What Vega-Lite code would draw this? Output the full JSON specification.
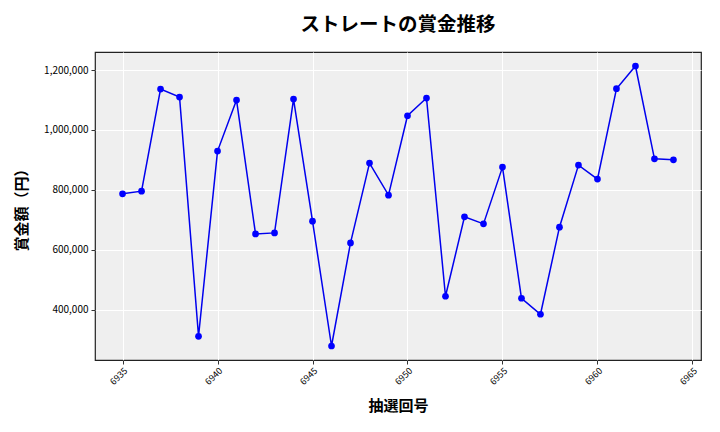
{
  "$schema": "https://vega.github.io/schema/vega-lite/v6.json",
  "width": 606,
  "height": 308,
  "autosize": {"type": "none"},
  "padding": {"left": 95, "top": 52, "right": 19, "bottom": 72},
  "background": "white",
  "title": {
    "text": "ストレートの賞金推移",
    "font": "Noto Sans CJK JP",
    "fontSize": 19.5,
    "fontWeight": "bold",
    "color": "#000000",
    "anchor": "middle",
    "offset": 17
  },
  "config": {
    "view": {"fill": "#EFEFEF", "stroke": "#222222", "strokeWidth": 1.2},
    "axis": {
      "labelFont": "Noto Sans CJK JP",
      "titleFont": "Noto Sans CJK JP",
      "labelColor": "#000000",
      "titleColor": "#000000",
      "gridColor": "#FFFFFF",
      "gridWidth": 1,
      "domain": false,
      "tickColor": "#333333",
      "tickSize": 4
    }
  },
  "data": {
    "values": [
      {"round": 6935, "prize": 786600},
      {"round": 6936, "prize": 795500},
      {"round": 6937, "prize": 1136800},
      {"round": 6938, "prize": 1110000},
      {"round": 6939, "prize": 310700},
      {"round": 6940, "prize": 929400},
      {"round": 6941, "prize": 1100000},
      {"round": 6942, "prize": 652800},
      {"round": 6943, "prize": 656200},
      {"round": 6944, "prize": 1103300},
      {"round": 6945, "prize": 695300},
      {"round": 6946, "prize": 278300},
      {"round": 6947, "prize": 622700},
      {"round": 6948, "prize": 889300},
      {"round": 6949, "prize": 782300},
      {"round": 6950, "prize": 1047500},
      {"round": 6951, "prize": 1106700},
      {"round": 6952, "prize": 444500},
      {"round": 6953, "prize": 709700},
      {"round": 6954, "prize": 686300},
      {"round": 6955, "prize": 875900},
      {"round": 6956, "prize": 437800},
      {"round": 6957, "prize": 384300},
      {"round": 6958, "prize": 675300},
      {"round": 6959, "prize": 882600},
      {"round": 6960, "prize": 835800},
      {"round": 6961, "prize": 1137800},
      {"round": 6962, "prize": 1213700},
      {"round": 6963, "prize": 903700},
      {"round": 6964, "prize": 900300}
    ]
  },
  "encoding": {
    "x": {
      "field": "round",
      "type": "quantitative",
      "scale": {"domain": [6933.55, 6965.45], "nice": false, "zero": false},
      "axis": {
        "title": "抽選回号",
        "titleFontSize": 15,
        "titleFontWeight": "bold",
        "titlePadding": 12,
        "values": [6935, 6940, 6945, 6950, 6955, 6960, 6965],
        "format": "d",
        "labelAngle": -45,
        "labelFontSize": 9,
        "labelPadding": 2
      }
    },
    "y": {
      "field": "prize",
      "type": "quantitative",
      "scale": {"domain": [231500, 1260500], "nice": false, "zero": false},
      "axis": {
        "title": "賞金額（円）",
        "titleFontSize": 15,
        "titleFontWeight": "bold",
        "titlePadding": 14,
        "values": [400000, 600000, 800000, 1000000, 1200000],
        "format": ",d",
        "labelFontSize": 10,
        "labelPadding": 3
      }
    }
  },
  "layer": [
    {"mark": {"type": "line", "color": "#0000EE", "strokeWidth": 1.5}},
    {"mark": {"type": "point", "filled": true, "color": "#0000FF", "size": 45, "opacity": 1}}
  ]
}
